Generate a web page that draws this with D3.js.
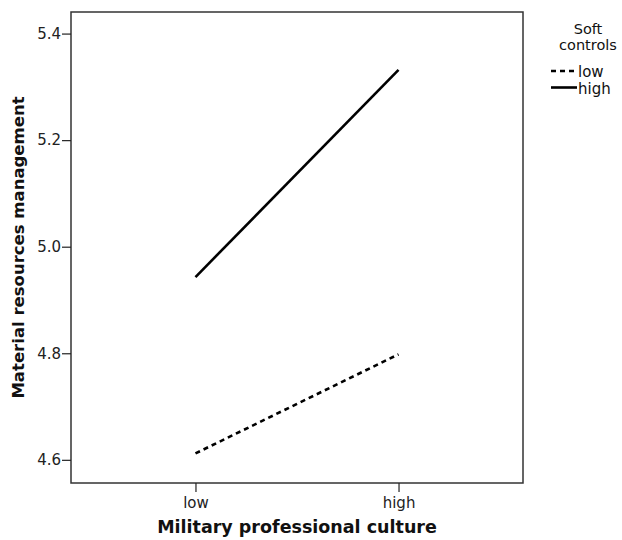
<!DOCTYPE html>
<html>
<head>
<meta charset="utf-8">
<script src="https://cdn.jsdelivr.net/npm/d3@7"></script>
<style>
  body { margin: 0; background: #fff; }
  text { font-family: "DejaVu Sans", Verdana, sans-serif; }
</style>
</head>
<body>
<svg id="chart" width="622" height="540"></svg>
<script>
const categories = ["low", "high"];
const seriesNames = ["low", "high"];
const lowValues = [4.612, 4.798];
const highValues = [4.943, 5.332];
const yTicks = [4.6, 4.8, 5.0, 5.2, 5.4];
const xTitle = "Military professional culture";
const yTitle = "Material resources management";
const legendTitle = ["Soft", "controls"];

const series = [
  { name: seriesNames[0], values: lowValues, dash: "5,4" },
  { name: seriesNames[1], values: highValues, dash: null }
];

const svg = d3.select("#chart");
const m = { left: 71, top: 12, right: 523, bottom: 483 };

const x = d3.scalePoint().domain(categories).range([m.left, m.right]).padding(0.613);
const y = d3.scaleLinear().domain([4.5565, 5.4405]).range([m.bottom, m.top]);

// frame
svg.append("rect")
  .attr("x", m.left).attr("y", m.top)
  .attr("width", m.right - m.left).attr("height", m.bottom - m.top)
  .attr("fill", "none").attr("stroke", "#333").attr("stroke-width", 1.5);

// y axis
const yAxis = svg.append("g").attr("transform", `translate(${m.left},0)`)
  .call(d3.axisLeft(y).tickValues(yTicks).tickFormat(d3.format(".1f")).tickSize(9).tickPadding(1));
yAxis.select(".domain").remove();
yAxis.selectAll("line").attr("stroke", "#222").attr("stroke-width", 1.2);
yAxis.selectAll("text").attr("font-size", 15).attr("fill", "#222")
  .attr("font-family", "DejaVu Sans, Verdana, sans-serif");

// x axis
const xAxis = svg.append("g").attr("transform", `translate(0,${m.bottom})`)
  .call(d3.axisBottom(x).tickSize(9).tickPadding(5));
xAxis.select(".domain").remove();
xAxis.selectAll("line").attr("stroke", "#222").attr("stroke-width", 1.2);
xAxis.selectAll("text").attr("font-size", 15).attr("fill", "#222")
  .attr("font-family", "DejaVu Sans, Verdana, sans-serif");

// titles
svg.append("text")
  .attr("x", (m.left + m.right) / 2).attr("y", 533)
  .attr("text-anchor", "middle").attr("font-size", 17.5).attr("font-weight", "bold")
  .attr("fill", "#111").text(xTitle);
svg.append("text")
  .attr("transform", `translate(24,${(m.top + m.bottom) / 2}) rotate(-90)`)
  .attr("text-anchor", "middle").attr("font-size", 16.5).attr("font-weight", "bold")
  .attr("fill", "#111").text(yTitle);

// lines
const line = d3.line().x((d, i) => x(categories[i])).y(d => y(d));
series.forEach(s => {
  svg.append("path")
    .datum(s.values)
    .attr("d", line)
    .attr("fill", "none")
    .attr("stroke", "#000")
    .attr("stroke-width", 2.6)
    .attr("stroke-dasharray", s.dash);
});

// legend
const lg = svg.append("g");
legendTitle.forEach((t, i) => {
  lg.append("text").attr("x", 588).attr("y", 34 + i * 15.5)
    .attr("text-anchor", "middle").attr("font-size", 14.5).attr("fill", "#111").text(t);
});
series.forEach((s, i) => {
  const yy = 71 + i * 16.5;
  lg.append("line").attr("x1", 551).attr("x2", 577).attr("y1", yy).attr("y2", yy)
    .attr("stroke", "#000").attr("stroke-width", 2.6).attr("stroke-dasharray", s.dash ? "5,4" : null);
  lg.append("text").attr("x", 578).attr("y", yy + 6)
    .attr("font-size", 15).attr("fill", "#111").text(s.name);
});
</script>
</body>
</html>
